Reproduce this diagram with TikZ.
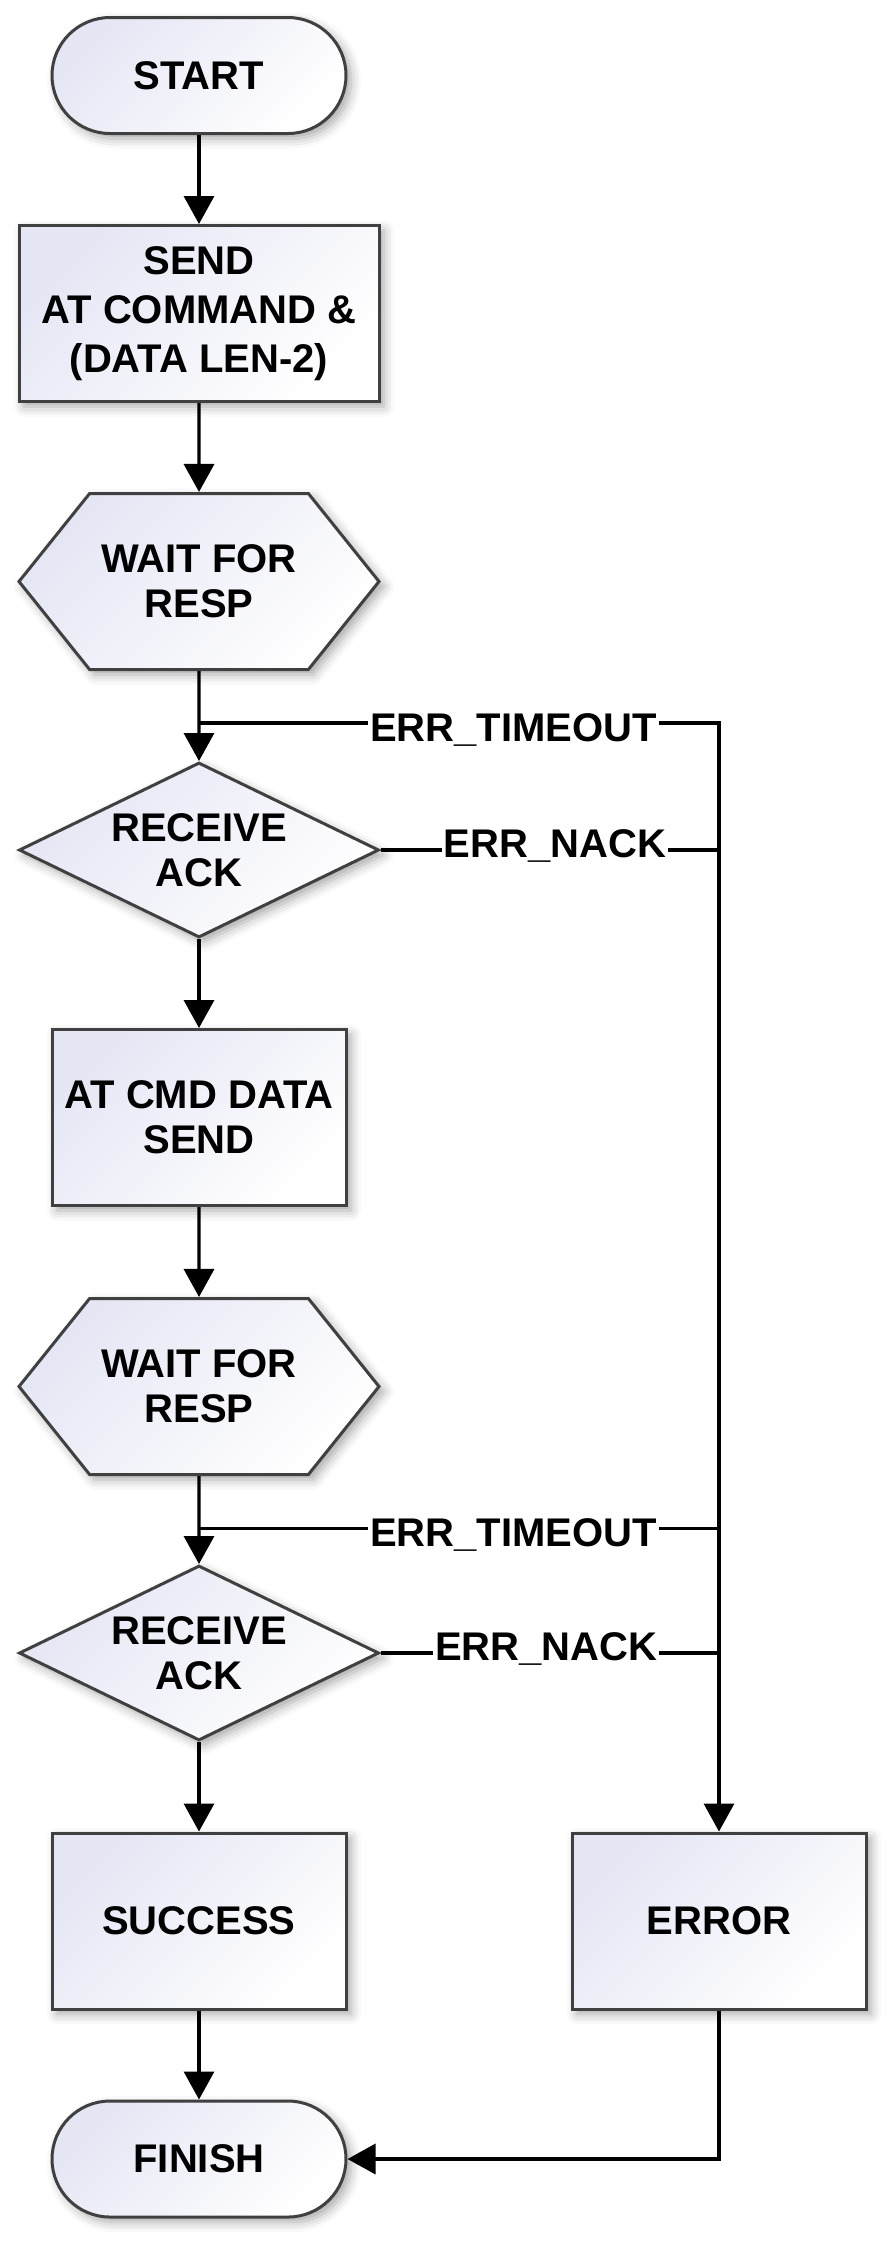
\documentclass[tikz,border=0pt]{standalone}
\usepackage{fontspec}
\setmainfont{Liberation Sans}
\usetikzlibrary{arrows.meta,shapes.geometric,shapes.symbols,shadows.blur}
\definecolor{edgegray}{HTML}{404040}
\definecolor{boxtint}{HTML}{E4E6F4}
\tikzset{
  >={Triangle[length=14pt,width=15pt]},
  shapebase/.style={draw=edgegray,line width=1.5pt,top color=boxtint,bottom color=white,
    shading angle=45,align=center,inner sep=0pt,
    blur shadow={shadow xshift=2.5pt,shadow yshift=-2.5pt,shadow blur radius=5pt,shadow opacity=35},
    font=\fontsize{20}{22.5}\selectfont\bfseries},
  terminal/.style={shapebase,rectangle,rounded corners=29pt,minimum width=147pt,minimum height=58pt},
  procbox/.style={shapebase,rectangle,minimum width=147pt,minimum height=88pt},
  waitbox/.style={shapebase,signal,signal to=west and east,signal pointer angle=102.5,
    minimum width=180pt,minimum height=88pt},
  decision/.style={shapebase,diamond,aspect=2.06,minimum width=180pt,minimum height=87.5pt},
  lbl/.style={fill=white,inner xsep=1pt,inner ysep=2pt,anchor=base,
    font=\fontsize{20}{22.5}\selectfont\bfseries}
}
\begin{document}
\begin{tikzpicture}[x=0.5pt,y=-0.5pt,line width=1.7pt]
  \useasboundingbox (0,0) rectangle (894,2245);
  \node[terminal] (start) at (199,75.5) {START};
  \node[procbox,minimum width=180pt,font=\fontsize{20}{24.5}\selectfont\bfseries] (send) at (199,313.5)
    {SEND\\AT COMMAND \&\\(DATA LEN-2)};
  \node[waitbox] (wait1) at (199,581.5) {WAIT FOR\\RESP};
  \node[decision] (ack1) at (199,850) {RECEIVE\\ACK};
  \node[procbox] (data) at (199,1117.5) {AT CMD DATA\\SEND};
  \node[waitbox] (wait2) at (199,1386.5) {WAIT FOR\\RESP};
  \node[decision] (ack2) at (199,1653) {RECEIVE\\ACK};
  \node[procbox] (ok) at (199,1921) {SUCCESS};
  \node[procbox] (err) at (719,1921) {ERROR};
  \node[terminal] (finish) at (199,2159) {FINISH};

  \draw[->] (start) -- (send);
  \draw[->] (send) -- (wait1);
  \draw[->] (wait1) -- (ack1);
  \draw[->] (ack1) -- (data);
  \draw[->] (data) -- (wait2);
  \draw[->] (wait2) -- (ack2);
  \draw[->] (ack2) -- (ok);
  \draw[->] (ok) -- (finish);
  \draw[->] (err) |- (finish);

  % error branches
  \path (wait1.south) ++(0,52) coordinate (to1);
  \path (wait2.south) ++(0,52.5) coordinate (to2);
  \draw[->] (to1) -- node[lbl,pos=0.605,yshift=-9pt]{ERR\_TIMEOUT} (to1 -| err.north) -- (err.north);
  \draw (ack1.east) -- node[lbl,pos=0.515,yshift=-3.5pt]{ERR\_NACK} (ack1.east -| err.north);
  \draw (to2) -- node[lbl,pos=0.605,yshift=-9pt]{ERR\_TIMEOUT} (to2 -| err.north);
  \draw (ack2.east) -- node[lbl,pos=0.49,yshift=-3.5pt]{ERR\_NACK} (ack2.east -| err.north);
\end{tikzpicture}
\end{document}
